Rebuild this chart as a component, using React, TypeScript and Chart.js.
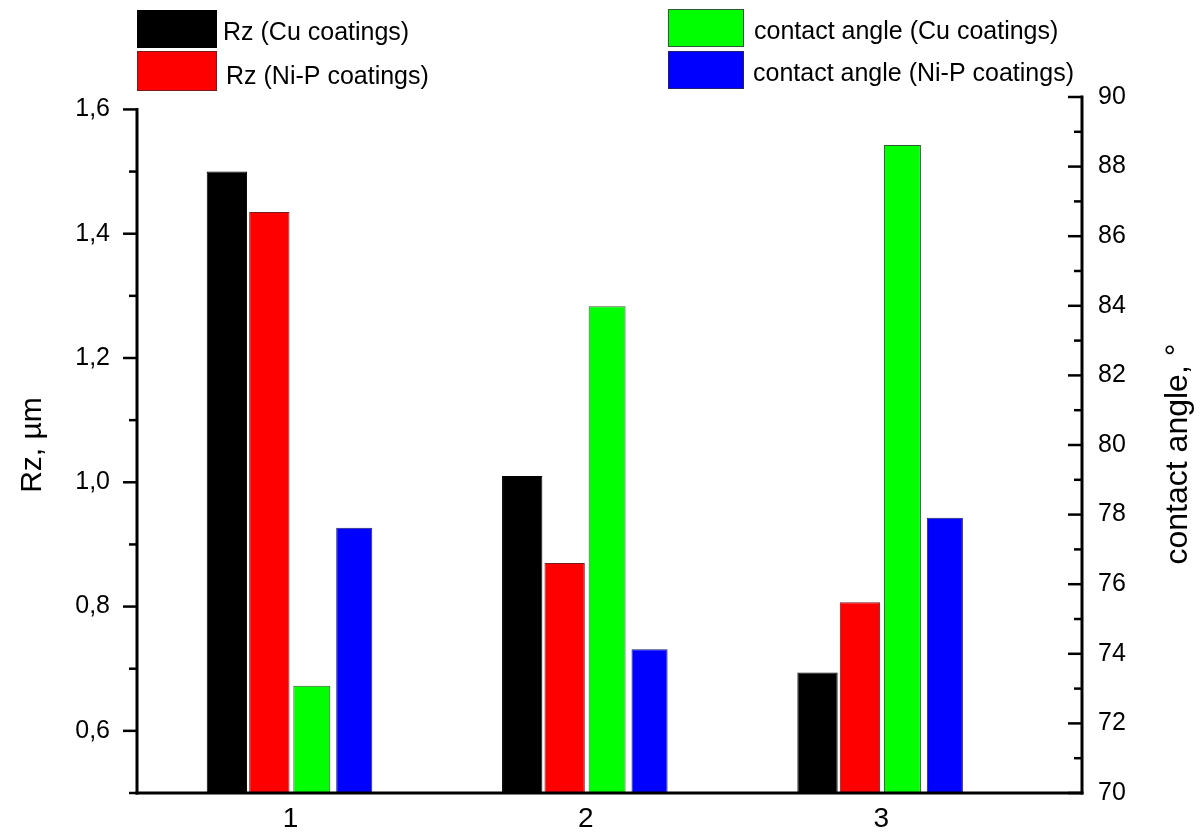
import React, { useEffect, useRef } from 'react';
import { Chart, registerables } from 'chart.js';

Chart.register(...registerables);

const FONT = "'Liberation Sans', Arial, sans-serif";

// ---- data ----
const categories = [1, 2, 3];
const xTickLabels = ['1', '2', '3'];
const rzCu = [1.5, 1.01, 0.694];
const rzNiP = [1.435, 0.87, 0.807];
const angleCu = [73.08, 83.99, 88.62];
const angleNiP = [77.62, 74.13, 77.91];
const seriesLabels = [
  'Rz (Cu coatings)',
  'Rz (Ni-P coatings)',
  'contact angle (Cu coatings)',
  'contact angle (Ni-P coatings)',
];
const leftMajorTicks = [0.6, 0.8, 1.0, 1.2, 1.4, 1.6];
const leftTickLabels = ['0,6', '0,8', '1,0', '1,2', '1,4', '1,6'];
const leftMinorTicks = [0.5, 0.7, 0.9, 1.1, 1.3, 1.5];
const rightMajorTicks = [70, 72, 74, 76, 78, 80, 82, 84, 86, 88, 90];
const rightTickLabels = ['70', '72', '74', '76', '78', '80', '82', '84', '86', '88', '90'];
const rightMinorTicks = [71, 73, 75, 77, 79, 81, 83, 85, 87, 89];
const leftTitle = 'Rz, µm';
const rightTitle = 'contact angle, °';

const fills = ['#000000', '#ff0000', '#00ff00', '#0000ff'];
const borders = ['#000000', '#7a1c1c', '#2e5e2e', '#20206e'];

const decorPlugin = {
  id: 'decor',
  afterDraw(chart: any) {
    const ctx = chart.ctx as CanvasRenderingContext2D;
    const { left, right, top, bottom } = chart.chartArea;
    const yL = chart.scales.y;
    const yR = chart.scales.y1;
    ctx.save();
    ctx.strokeStyle = '#000';
    const seg = (x1: number, y1: number, x2: number, y2: number) => {
      ctx.beginPath();
      ctx.moveTo(x1, y1);
      ctx.lineTo(x2, y2);
      ctx.stroke();
    };
    // ticks
    ctx.lineWidth = 2.5;
    ctx.lineCap = 'butt';
    leftMajorTicks.forEach((v) => { const p = yL.getPixelForValue(v); seg(left - 14, p, left, p); });
    leftMinorTicks.forEach((v) => { const p = yL.getPixelForValue(v); seg(left - 8, p, left, p); });
    rightMajorTicks.forEach((v) => { const p = yR.getPixelForValue(v); seg(right - 14, p, right, p); });
    rightMinorTicks.forEach((v) => { const p = yR.getPixelForValue(v); seg(right - 8, p, right, p); });
    // axis lines
    ctx.lineWidth = 3;
    ctx.lineCap = 'square';
    const topLeft = yL.getPixelForValue(leftMajorTicks[leftMajorTicks.length - 1]);
    seg(left, bottom, left, topLeft);
    seg(right, bottom, right, yR.getPixelForValue(rightMajorTicks[rightMajorTicks.length - 1]));
    seg(left, bottom, right, bottom);

    // right title (reads bottom-to-top)
    ctx.fillStyle = '#000';
    ctx.font = `32px ${FONT}`;
    ctx.textAlign = 'center';
    ctx.textBaseline = 'middle';
    ctx.translate(1178, (top + bottom) / 2 + 9);
    ctx.rotate(-Math.PI / 2);
    ctx.fillText(rightTitle, 0, 0);
    ctx.restore();

    // legend
    ctx.save();
    const items = [
      { i: 0, bx: 137, by: 10, bw: 80, bh: 38, tx: 223, ty: 33 },
      { i: 1, bx: 137, by: 51, bw: 80, bh: 40, tx: 226, ty: 77 },
      { i: 2, bx: 668, by: 9, bw: 76, bh: 38, tx: 754, ty: 32 },
      { i: 3, bx: 668, by: 51, bw: 76, bh: 38, tx: 753, ty: 74 },
    ];
    ctx.font = `25px ${FONT}`;
    ctx.textAlign = 'left';
    ctx.textBaseline = 'middle';
    items.forEach((it) => {
      const ds = chart.data.datasets[it.i];
      ctx.fillStyle = ds.backgroundColor;
      ctx.fillRect(it.bx, it.by, it.bw, it.bh);
      ctx.strokeStyle = ds.borderColor;
      ctx.lineWidth = 1;
      ctx.strokeRect(it.bx + 0.5, it.by + 0.5, it.bw - 1, it.bh - 1);
      ctx.fillStyle = '#000';
      ctx.fillText(ds.label, it.tx, it.ty);
    });
    ctx.restore();
  },
};

export default function App() {
  const ref = useRef<HTMLCanvasElement | null>(null);

  useEffect(() => {
    if (!ref.current) return;
    const mk = (i: number, data: number[], axis: string, bp: number) => ({
      label: seriesLabels[i],
      data,
      yAxisID: axis,
      backgroundColor: fills[i],
      borderColor: borders[i],
      borderWidth: 1,
      categoryPercentage: 0.575,
      barPercentage: bp,
    });
    const chart = new Chart(ref.current, {
      type: 'bar',
      data: {
        labels: categories,
        datasets: [
          mk(0, rzCu, 'y', 0.95),
          mk(1, rzNiP, 'y', 0.95),
          mk(2, angleCu, 'y1', 0.87),
          mk(3, angleNiP, 'y1', 0.85),
        ],
      },
      options: {
        animation: false,
        responsive: true,
        maintainAspectRatio: false,
        layout: { padding: { top: 97, left: 0, right: 0, bottom: 0 } },
        plugins: {
          legend: { display: false },
          tooltip: { enabled: false },
        },
        scales: {
          x: {
            type: 'linear',
            min: 0.48,
            max: 3.68,
            offset: false,
            grid: { display: false, drawTicks: false, offset: false },
            border: { display: false },
            afterBuildTicks: (s: any) => { s.ticks = categories.map((v) => ({ value: v })); },
            ticks: {
              autoSkip: false,
              maxRotation: 0,
              padding: 9,
              color: '#000',
              font: { family: FONT, size: 28 },
              callback: (_v: any, i: number) => xTickLabels[i],
            },
            afterFit: (s: any) => { s.height = 38; },
          },
          y: {
            type: 'linear',
            position: 'left',
            min: 0.5,
            max: 1.62,
            grid: { display: false, drawTicks: false },
            border: { display: false },
            afterBuildTicks: (s: any) => { s.ticks = leftMajorTicks.map((v) => ({ value: v })); },
            ticks: {
              padding: 27,
              color: '#000',
              font: { family: FONT, size: 25 },
              callback: (_v: any, i: number) => leftTickLabels[i],
            },
            title: {
              display: true,
              text: leftTitle,
              color: '#000',
              font: { family: FONT, size: 30 },
              padding: { top: 15, bottom: 0 },
            },
            afterFit: (s: any) => { s.width = 137; },
          },
          y1: {
            type: 'linear',
            position: 'right',
            min: 70,
            max: 90,
            grid: { display: false, drawTicks: false, drawOnChartArea: false },
            border: { display: false },
            afterBuildTicks: (s: any) => { s.ticks = rightMajorTicks.map((v) => ({ value: v })); },
            ticks: {
              padding: 16,
              color: '#000',
              font: { family: FONT, size: 25 },
              callback: (_v: any, i: number) => rightTickLabels[i],
            },
            afterFit: (s: any) => { s.width = 121; },
          },
        },
      },
      plugins: [decorPlugin],
    } as any);
    return () => chart.destroy();
  }, []);

  return (
    <div style={{ position: 'absolute', left: 0, top: 0, width: 1203, height: 835, background: '#fff' }}>
      <canvas ref={ref} />
    </div>
  );
}
